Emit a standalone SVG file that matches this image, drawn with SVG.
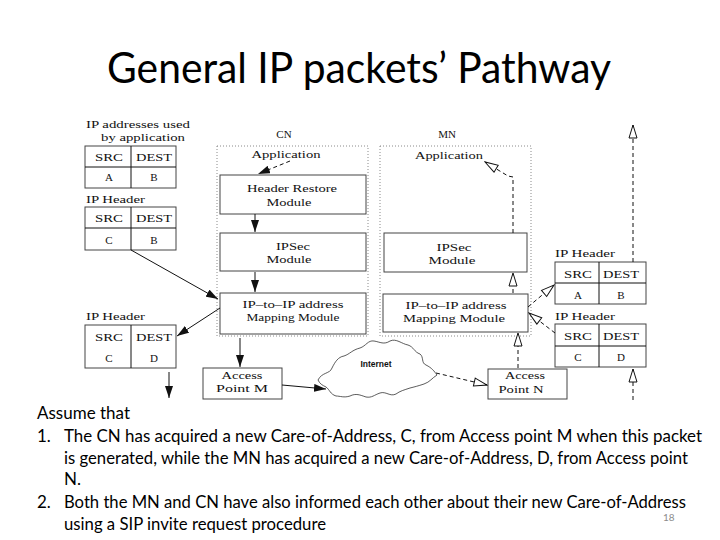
<svg xmlns="http://www.w3.org/2000/svg" width="720" height="540" viewBox="0 0 720 540">
<defs>
<style>
.t{font-family:"Liberation Serif",serif;font-size:11px;fill:#111}
.s{font-size:11px}
.c{text-anchor:middle}
.box{fill:#fff;stroke:#444;stroke-width:1}
.dot{fill:none;stroke:#8a8a8a;stroke-width:1;stroke-dasharray:1 2}
.ln{fill:none;stroke:#111;stroke-width:1}
.ds{stroke-dasharray:4 3}
.body{font-family:Lato,"Liberation Sans",sans-serif;font-size:17px;fill:#000}
</style>
<marker id="af" viewBox="0 0 12 8" refX="12" refY="4" markerWidth="12" markerHeight="8" orient="auto" markerUnits="userSpaceOnUse"><path d="M0,0 L12,4 L0,8 z" fill="#111"/></marker>
<marker id="ah" viewBox="0 0 15 10" refX="14" refY="5" markerWidth="15" markerHeight="10" orient="auto" markerUnits="userSpaceOnUse"><path d="M1,1 L14,5 L1,9 z" fill="#fff" stroke="#111" stroke-width="1"/></marker>
</defs>
<rect width="720" height="540" fill="#fff"/>

<text x="107" y="83" font-family="Lato,'Liberation Sans',sans-serif" font-size="42" textLength="504" lengthAdjust="spacingAndGlyphs" fill="#000">General IP packets’ Pathway</text>

<!-- containers -->
<g id="cn">
<rect class="dot" x="217" y="146" width="151" height="190"/>
<text class="t c" x="284" y="138">CN</text>
</g>
<g id="mn">
<rect class="dot" x="380" y="146" width="151" height="190"/>
<text class="t c" x="447" y="138">MN</text>
</g>

<!-- left tables -->
<g id="tbl1">
<text class="t" x="86" y="128" textLength="104" lengthAdjust="spacingAndGlyphs">IP addresses used</text>
<text class="t" x="101" y="141" textLength="84" lengthAdjust="spacingAndGlyphs">by application</text>
<rect class="box" x="85" y="146" width="91" height="42"/>
<line class="ln" x1="131" y1="146" x2="131" y2="188" stroke="#444"/>
<line class="ln" x1="85" y1="167" x2="176" y2="167" stroke="#444"/>
<text class="t c" x="109" y="161" textLength="28" lengthAdjust="spacingAndGlyphs">SRC</text>
<text class="t c" x="154" y="161" textLength="36" lengthAdjust="spacingAndGlyphs">DEST</text>
<text class="t c" x="109" y="181">A</text>
<text class="t c" x="154" y="181">B</text>
</g>
<g id="tbl2">
<text class="t" x="86" y="203" textLength="59" lengthAdjust="spacingAndGlyphs">IP Header</text>
<rect class="box" x="85" y="207" width="91" height="43"/>
<line class="ln" x1="131" y1="207" x2="131" y2="250" stroke="#444"/>
<line class="ln" x1="85" y1="228" x2="176" y2="228" stroke="#999"/>
<text class="t c" x="109" y="222" textLength="28" lengthAdjust="spacingAndGlyphs">SRC</text>
<text class="t c" x="154" y="222" textLength="36" lengthAdjust="spacingAndGlyphs">DEST</text>
<text class="t c" x="109" y="244">C</text>
<text class="t c" x="154" y="244">B</text>
</g>
<g id="tbl3">
<text class="t" x="86" y="320" textLength="59" lengthAdjust="spacingAndGlyphs">IP Header</text>
<rect class="box" x="85" y="325" width="91" height="43"/>
<line class="ln" x1="131" y1="325" x2="131" y2="368" stroke="#444"/>
<text class="t c" x="109" y="341" textLength="28" lengthAdjust="spacingAndGlyphs">SRC</text>
<text class="t c" x="154" y="341" textLength="36" lengthAdjust="spacingAndGlyphs">DEST</text>
<text class="t c" x="109" y="362">C</text>
<text class="t c" x="154" y="362">D</text>
</g>

<!-- CN modules -->
<g id="cnApp"><text class="t c" x="286" y="158" textLength="69" lengthAdjust="spacingAndGlyphs">Application</text></g>
<g id="hdr">
<rect class="box" x="220" y="175" width="146" height="39"/>
<text class="t c" x="292" y="192" textLength="90" lengthAdjust="spacingAndGlyphs">Header Restore</text>
<text class="t c" x="289" y="206" textLength="45" lengthAdjust="spacingAndGlyphs">Module</text>
</g>
<g id="cnIpsec">
<rect class="box" x="220" y="233" width="146" height="38"/>
<text class="t c" x="293" y="250" textLength="34" lengthAdjust="spacingAndGlyphs">IPSec</text>
<text class="t c" x="289" y="263" textLength="45" lengthAdjust="spacingAndGlyphs">Module</text>
</g>
<g id="cnMap">
<rect class="box" x="220" y="293" width="146" height="41"/>
<text class="t c" x="293" y="308" textLength="101" lengthAdjust="spacingAndGlyphs">IP–to–IP address</text>
<text class="t c" x="293" y="321" textLength="93" lengthAdjust="spacingAndGlyphs">Mapping Module</text>
</g>
<g id="apM">
<rect class="box" x="203" y="368" width="79" height="31"/>
<text class="t c" x="242" y="379" textLength="41" lengthAdjust="spacingAndGlyphs">Access</text>
<text class="t c" x="242" y="392" textLength="52" lengthAdjust="spacingAndGlyphs">Point M</text>
</g>

<!-- MN modules -->
<g id="mnApp"><text class="t c" x="449" y="159" textLength="68" lengthAdjust="spacingAndGlyphs">Application</text></g>
<g id="mnIpsec">
<rect class="box" x="384" y="233" width="143" height="39"/>
<text class="t c" x="454" y="251" textLength="35" lengthAdjust="spacingAndGlyphs">IPSec</text>
<text class="t c" x="452" y="264" textLength="47" lengthAdjust="spacingAndGlyphs">Module</text>
</g>
<g id="mnMap">
<rect class="box" x="383" y="294" width="145" height="38"/>
<text class="t c" x="456" y="309" textLength="101" lengthAdjust="spacingAndGlyphs">IP–to–IP address</text>
<text class="t c" x="454" y="322" textLength="102" lengthAdjust="spacingAndGlyphs">Mapping Module</text>
</g>
<g id="apN">
<rect class="box" x="488" y="369" width="79" height="30"/>
<text class="t c" x="525" y="379" textLength="40" lengthAdjust="spacingAndGlyphs">Access</text>
<text class="t c" x="521" y="393" textLength="45" lengthAdjust="spacingAndGlyphs">Point N</text>
</g>

<!-- Internet cloud -->
<g id="internet">
<path d="M318,380 C322,372 330,374 332,368 C335,362 338,357 344,356 C350,354 352,350 360,348 C366,346 368,340 374,341 C380,342 384,345 390,341 C396,338 402,344 408,345 C414,347 414,352 420,354 C424,357 421,363 426,365 C432,368 434,371 437,375 C432,378 430,382 424,384 C418,386 414,387 410,388 C404,390 400,391 396,394 C390,397 386,391 380,393 C374,395 372,398 366,397 C360,395 356,393 350,396 C344,398 340,396 336,396 C330,394 330,390 326,387 C322,385 320,384 318,380 Z" fill="#fff" stroke="#333" stroke-width="0.8"/>
<text x="376" y="367" text-anchor="middle" font-family="'Liberation Sans',sans-serif" font-weight="bold" font-size="8.5" fill="#111">Internet</text>
</g>

<!-- right tables -->
<g id="tbl4">
<text class="t" x="555" y="257" textLength="60" lengthAdjust="spacingAndGlyphs">IP Header</text>
<rect class="box" x="555" y="262" width="91" height="42"/>
<line class="ln" x1="599" y1="262" x2="599" y2="304" stroke="#444"/>
<line class="ln" x1="555" y1="283" x2="646" y2="283" stroke="#444"/>
<text class="t c" x="578" y="278" textLength="28" lengthAdjust="spacingAndGlyphs">SRC</text>
<text class="t c" x="621" y="278" textLength="36" lengthAdjust="spacingAndGlyphs">DEST</text>
<text class="t c" x="578" y="299">A</text>
<text class="t c" x="621" y="299">B</text>
</g>
<g id="tbl5">
<text class="t" x="555" y="320" textLength="60" lengthAdjust="spacingAndGlyphs">IP Header</text>
<rect class="box" x="555" y="324" width="91" height="43"/>
<line class="ln" x1="599" y1="324" x2="599" y2="367" stroke="#444"/>
<line class="ln" x1="555" y1="346" x2="646" y2="346" stroke="#444"/>
<text class="t c" x="578" y="340" textLength="28" lengthAdjust="spacingAndGlyphs">SRC</text>
<text class="t c" x="621" y="340" textLength="36" lengthAdjust="spacingAndGlyphs">DEST</text>
<text class="t c" x="578" y="361">C</text>
<text class="t c" x="621" y="361">D</text>
</g>

<!-- connectors -->
<g id="connectors">
<path class="ln" d="M131,250 L218,299" marker-end="url(#af)"/>
<path class="ln ds" d="M290,161 L258,174" marker-end="url(#af)"/>
<path class="ln" d="M255,214 L255,232" marker-end="url(#af)"/>
<path class="ln" d="M255,272 L255,292" marker-end="url(#af)"/>
<path class="ln" d="M220,308 L177,336" marker-end="url(#af)"/>
<path class="ln" d="M169,372 L169,398" marker-end="url(#af)"/>
<path class="ln" d="M240,338 L240,367" marker-end="url(#af)"/>
<path class="ln" d="M282,385 L326,389" marker-end="url(#af)"/>
<path class="ln ds" d="M436,373 L487,385" marker-end="url(#ah)"/>
<path class="ln ds" d="M518,368 L518,333" marker-end="url(#ah)"/>
<path class="ln ds" d="M513,293 L513,273" marker-end="url(#ah)"/>
<path class="ln ds" d="M513,233 L513,177 L508,176 L485,162" marker-end="url(#ah)"/>
<path class="ln ds" d="M555,333 L529,313" marker-end="url(#ah)"/>
<path class="ln ds" d="M528,307 L554,285" marker-end="url(#ah)"/>
<path class="ln ds" d="M633,262 L633,125" marker-end="url(#ah)"/>
<path class="ln ds" d="M633,400 L633,369" marker-end="url(#ah)"/>
</g>

<!-- body text -->
<g id="notes">
<text class="body" x="37" y="419" textLength="93" lengthAdjust="spacingAndGlyphs">Assume that</text>
<text class="body" x="37" y="442">1.</text>
<text class="body" x="64" y="442" textLength="638" lengthAdjust="spacingAndGlyphs">The CN has acquired a new Care-of-Address, C, from Access point M when this packet</text>
<text class="body" x="64" y="464" textLength="624" lengthAdjust="spacingAndGlyphs">is generated, while the MN has acquired a new Care-of-Address, D, from Access point</text>
<text class="body" x="64" y="485">N.</text>
<text class="body" x="37" y="508">2.</text>
<text class="body" x="64" y="508" textLength="622" lengthAdjust="spacingAndGlyphs">Both the MN and CN have also informed each other about their new Care-of-Address</text>
<text class="body" x="64" y="530" textLength="262" lengthAdjust="spacingAndGlyphs">using a SIP invite request procedure</text>
<text x="663" y="521" font-family="Lato,'Liberation Sans',sans-serif" font-size="10" fill="#8c8c8c">18</text>
</g>
</svg>
